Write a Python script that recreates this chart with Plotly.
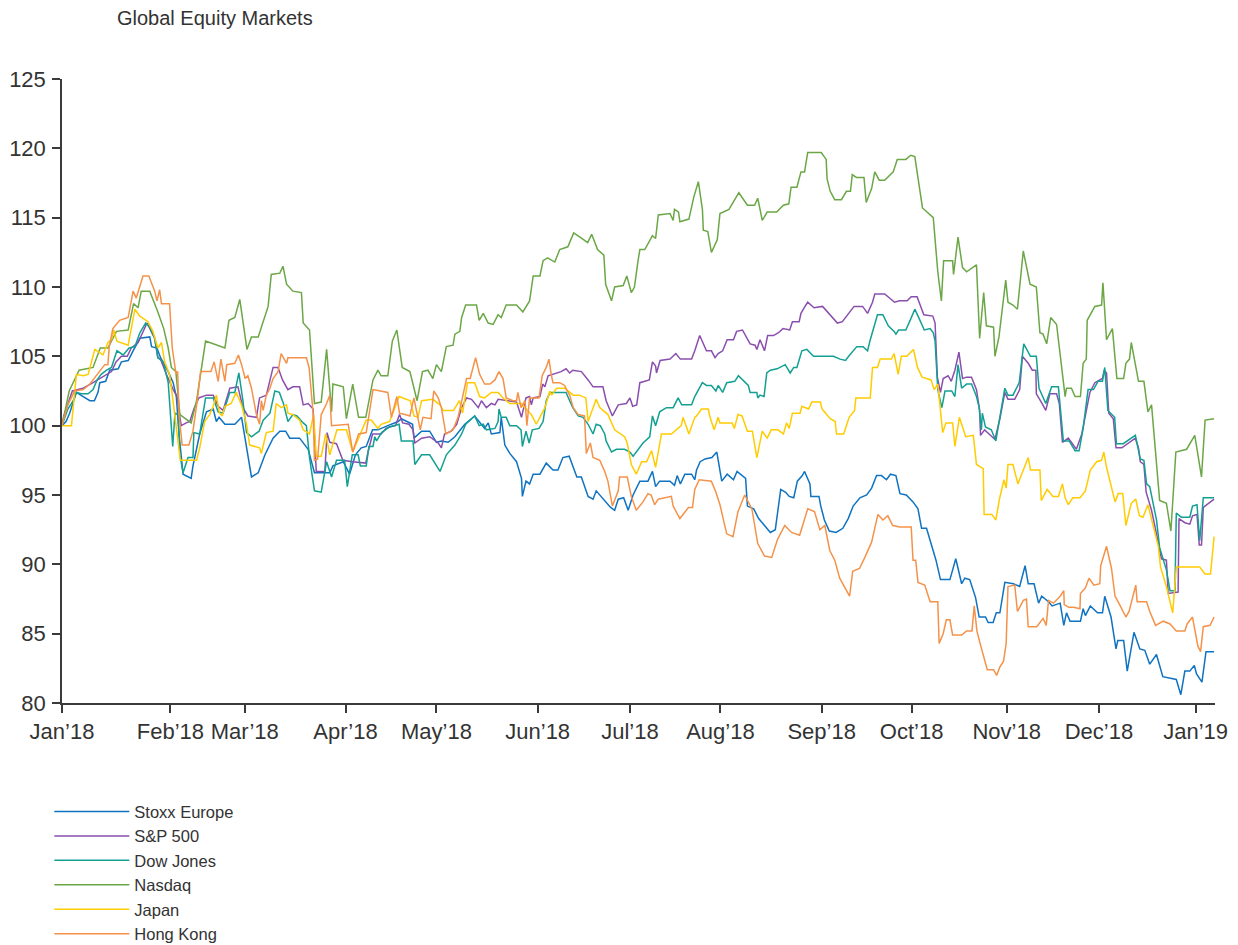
import plotly.graph_objects as go

# x = trading-day index (0 = 1 Jan 2018)
month_ticks = [0, 24.1, 40.6, 63.0, 83.2, 105.7, 126.2, 146.3, 168.8, 188.8, 209.9, 230.4, 251.9]
month_labels = ["Jan\u201918", "Feb\u201918", "Mar\u201918", "Apr\u201918", "May\u201918", "Jun\u201918",
                "Jul\u201918", "Aug\u201918", "Sep\u201918", "Oct\u201918", "Nov\u201918", "Dec\u201918", "Jan\u201919"]

stoxx = [(0,100.0),(0.9,100.3),(1.7,100.9),(3.2,102.4),(4.7,102.1),(6.2,101.8),(7.2,101.8),(8.0,102.4),(8.4,103.1),(9.7,103.2),(10.6,104.0),(12.5,104.1),(13.2,104.6),(14.7,104.7),(15.8,105.4),(17.3,106.3),(19.5,106.4),(19.9,105.7),(21.1,105.6),(21.9,104.9),(23.6,103.9),(24.7,103.1),(25.4,102.1),(26.0,99.4),(26.9,96.5),(28.7,96.2),(29.1,97.1),(30.6,99.4),(32.1,101.0),(33.6,101.2),(34.3,100.3),(34.9,100.6),(36.2,100.1),(38.4,100.1),(39.9,100.6),(41.1,98.4),(42.1,96.3),(43.6,96.6),(45.1,97.9),(46.9,99.1),(48.4,99.6),(49.7,99.6),(50.6,99.1),(52.8,99.1),(54.7,98.3),(56.1,96.6),(57.6,96.6),(59.5,96.6),(60.2,97.1),(62.5,97.4),(63.9,96.5),(65.2,97.9),(66.5,98.4),(67.6,98.5),(69.0,99.7),(70.2,99.7),(72.4,100.0),(74.7,100.3),(75.4,100.5),(76.5,100.3),(77.9,100.1),(78.2,99.1),(79.9,99.6),(81.7,99.6),(83.2,98.8),(84.3,98.9),(85.8,98.8),(87.3,99.2),(89.5,100.1),(91.7,100.7),(92.7,100.3),(93.9,99.8),(94.7,100.2),(95.4,99.4),(97.3,99.5),(97.6,100.6),(98.4,98.6),(99.5,98.0),(101.0,97.4),(102.1,96.2),(102.3,94.9),(103.1,96.0),(103.9,95.8),(104.7,96.5),(106.2,96.5),(107.6,97.3),(109.1,96.8),(110.2,96.8),(111.3,97.7),(112.7,97.8),(114.4,96.3),(115.4,96.3),(116.9,94.9),(118.0,94.7),(118.7,95.3),(119.5,95.0),(120.8,94.5),(121.9,94.1),(122.8,93.9),(123.6,94.7),(124.8,94.8),(125.8,93.9),(126.9,95.0),(128.4,96.0),(130.2,96.0),(131.2,96.7),(131.9,95.6),(132.8,96.0),(135.1,96.0),(136.1,95.7),(136.7,96.4),(137.4,95.8),(138.4,96.5),(139.9,96.5),(140.6,96.1),(141.0,96.8),(141.8,97.4),(142.9,97.6),(144.4,97.7),(145.5,98.1),(146.6,96.0),(147.8,96.5),(149.2,96.1),(150.0,96.7),(151.9,96.2),(152.3,94.2),(153.7,94.0),(154.8,93.3),(156.1,92.8),(157.4,92.3),(158.5,92.5),(159.7,95.4),(160.8,95.2),(161.6,94.9),(162.6,94.8),(163.4,96.0),(164.5,96.4),(165.0,96.7),(166.2,95.8),(166.4,94.9),(168.2,94.9),(168.6,94.2),(169.4,93.2),(170.5,92.4),(172.0,92.3),(173.5,92.6),(174.7,93.3),(175.8,94.2),(177.3,94.8),(178.8,95.0),(179.9,95.5),(181.0,96.4),(182.1,96.4),(183.2,96.1),(184.1,96.5),(185.3,96.4),(186.2,95.1),(187.6,95.0),(189.1,94.5),(190.2,94.0),(191.0,92.6),(192.1,92.6),(193.2,91.4),(194.2,90.3),(195.2,88.9),(197.3,88.9),(198.6,90.4),(199.9,88.6),(200.6,89.0),(201.7,88.9),(203.0,87.6),(203.8,86.2),(205.2,86.2),(205.8,85.8),(206.9,85.8),(207.6,86.5),(208.4,86.5),(209.5,88.7),(211.4,88.6),(212.8,88.4),(214.0,89.9),(214.7,88.6),(216.0,88.6),(217.0,87.2),(217.7,87.7),(219.2,87.3),(220.0,87.0),(221.1,87.1),(221.8,87.2),(222.6,85.6),(223.2,86.5),(224.0,85.9),(226.3,85.9),(226.9,86.8),(227.4,86.3),(228.5,87.0),(230.1,86.5),(231.2,86.5),(231.7,87.7),(233.1,86.2),(234.2,83.9),(234.6,84.5),(235.9,84.5),(236.7,82.3),(238.2,85.1),(239.5,83.9),(240.6,83.8),(241.7,82.8),(243.2,83.5),(244.6,81.9),(246.5,81.8),(247.6,81.7),(248.6,80.6),(249.5,82.3),(250.6,82.3),(251.6,82.7),(252.1,82.1),(253.3,81.5),(254.2,83.7),(256.0,83.7)]

sp500 = [(0,100.0),(0.4,100.7),(2.3,102.5),(4.7,102.7),(6.9,103.1),(9.5,103.6),(11.0,103.9),(12.0,104.6),(13.2,105.0),(14.5,105.0),(15.4,105.6),(16.9,106.0),(18.2,106.9),(18.9,107.4),(20.6,106.3),(21.3,104.9),(21.9,104.8),(23.2,103.7),(24.7,102.6),(25.6,102.1),(26.0,101.0),(26.5,100.0),(27.6,100.2),(28.4,100.3),(29.3,101.2),(30.4,102.0),(32.1,102.2),(33.6,102.2),(34.7,101.4),(35.8,101.1),(37.3,102.7),(39.1,102.8),(40.2,101.3),(41.3,100.7),(43.2,100.6),(43.9,102.0),(45.4,102.2),(46.9,104.2),(48.0,104.2),(49.0,103.3),(50.2,102.6),(51.3,102.8),(52.8,102.8),(53.6,101.5),(54.7,101.6),(55.8,101.2),(56.5,96.7),(58.4,96.7),(58.9,99.5),(59.5,98.8),(61.0,98.7),(62.4,97.5),(64.6,97.4),(67.5,97.3),(68.0,98.1),(69.0,99.4),(70.9,99.4),(72.0,99.8),(72.8,99.9),(74.1,100.0),(75.0,100.8),(75.7,100.2),(77.1,100.1),(78.0,99.7),(78.4,98.75),(79.9,99.1),(81.7,99.2),(83.6,98.75),(84.3,98.4),(85.0,99.4),(86.5,99.6),(87.7,100.1),(88.8,101.3),(89.9,102.0),(91.0,101.9),(92.5,101.3),(93.2,101.8),(94.3,101.3),(95.4,101.6),(96.2,101.5),(96.9,101.9),(99.1,101.8),(101.0,101.7),(102.1,100.6),(103.1,102.0),(103.9,102.1),(104.3,101.5),(104.7,102.0),(106.2,102.1),(106.8,103.0),(107.3,102.8),(108.0,103.6),(109.1,103.7),(110.9,103.9),(112.0,104.1),(112.8,103.8),(113.5,104.0),(115.4,103.9),(116.9,103.3),(118.0,102.8),(120.2,102.8),(120.9,101.8),(122.3,100.7),(123.6,101.5),(125.4,101.6),(126.2,102.0),(126.8,101.4),(127.7,101.5),(128.4,103.1),(130.5,103.3),(131.2,104.6),(131.9,104.3),(132.1,103.8),(132.9,104.7),(135.1,104.8),(136.4,105.2),(137.4,104.8),(139.9,104.8),(140.6,105.4),(141.7,106.5),(143.2,105.4),(144.3,105.4),(145.1,104.9),(145.8,105.2),(146.8,105.4),(147.8,106.2),(149.2,106.2),(149.9,106.8),(151.2,106.9),(152.9,105.9),(154.0,105.8),(154.4,105.5),(155.1,106.2),(156.1,105.4),(156.8,106.5),(158.1,106.5),(159.2,106.7),(160.2,107.0),(161.7,106.9),(162.3,107.5),(163.8,107.5),(164.2,108.1),(164.9,108.5),(165.7,108.9),(167.1,108.5),(169.0,108.6),(172.3,107.4),(173.4,107.5),(176.0,108.6),(177.9,108.6),(179.0,108.1),(180.1,108.9),(180.6,109.5),(182.8,109.5),(185.0,108.9),(186.1,109.0),(187.8,109.0),(188.7,109.3),(190.0,109.3),(190.8,108.6),(191.5,108.0),(193.5,107.9),(194.0,107.4),(194.5,103.5),(195.2,102.4),(195.8,103.4),(196.9,103.6),(197.6,103.2),(198.4,104.0),(199.3,105.3),(200.1,103.4),(201.0,103.5),(202.1,103.5),(203.2,102.6),(203.9,101.1),(204.1,99.3),(205.0,99.7),(206.0,99.4),(207.3,99.0),(208.4,100.5),(209.5,102.4),(210.2,101.9),(211.7,101.9),(212.8,102.6),(213.4,105.0),(214.7,104.5),(215.6,104.0),(216.4,104.0),(216.5,102.3),(217.6,101.7),(218.6,101.1),(219.5,102.3),(221.0,102.3),(221.6,101.6),(222.3,98.8),(223.6,99.1),(224.3,98.8),(225.4,98.3),(226.6,99.4),(227.7,101.3),(228.4,102.4),(229.5,103.1),(231.2,103.4),(231.6,104.0),(232.1,103.8),(232.6,100.9),(233.6,100.5),(234.2,98.4),(235.5,98.4),(238.5,99.1),(239.2,98.4),(239.6,97.4),(240.4,97.2),(240.9,95.2),(242.1,93.9),(243.2,92.2),(244.3,90.4),(245.4,90.3),(245.8,87.9),(248.0,88.0),(248.2,93.3),(249.5,93.0),(250.6,92.9),(251.2,93.5),(252.2,93.6),(252.7,91.4),(253.2,91.4),(253.6,94.1),(256.0,94.7)]

dow = [(0,100.0),(1.3,101.2),(2.5,101.8),(3.2,102.4),(4.3,102.3),(5.8,102.3),(6.9,102.6),(7.8,103.3),(8.7,103.7),(9.9,104.0),(11.0,104.2),(12.2,105.4),(13.6,105.1),(14.9,105.6),(16.2,105.7),(17.3,106.7),(18.6,107.4),(19.5,107.1),(20.6,106.3),(21.3,104.9),(22.5,104.6),(23.6,103.1),(24.6,98.5),(25.1,100.9),(25.8,100.8),(26.2,97.9),(26.9,96.6),(28.0,97.7),(29.1,97.7),(29.3,99.5),(30.6,99.4),(31.9,102.0),(33.6,102.0),(34.7,101.0),(35.8,100.9),(37.3,102.4),(38.4,102.4),(39.3,103.8),(40.2,101.8),(41.0,99.5),(42.1,99.2),(43.8,99.6),(44.7,100.4),(46.2,100.9),(47.3,102.5),(48.3,102.4),(49.2,101.6),(50.2,100.3),(51.3,100.8),(52.2,100.7),(53.6,100.2),(54.3,100.0),(55.0,97.7),(56.1,95.3),(57.6,95.2),(58.8,97.4),(59.9,96.3),(61.0,97.5),(62.8,97.5),(63.4,95.6),(64.5,97.9),(65.8,97.9),(66.3,97.1),(67.6,97.1),(68.2,98.5),(69.1,98.5),(69.5,99.2),(69.9,98.9),(71.0,99.5),(72.7,99.9),(74.9,100.1),(75.4,98.9),(78.0,98.9),(78.4,97.2),(79.9,97.9),(81.7,97.9),(84.0,96.7),(85.4,97.9),(87.3,98.6),(88.8,99.4),(89.7,100.1),(91.7,100.7),(92.7,100.0),(93.6,100.1),(94.3,99.7),(96.2,99.8),(96.9,100.3),(97.1,101.2),(97.6,100.6),(98.7,100.6),(99.5,100.0),(101.0,100.0),(102.0,99.7),(102.3,98.5),(103.1,99.6),(103.8,98.75),(104.5,99.7),(106.0,99.8),(106.9,100.3),(107.6,101.8),(108.4,102.4),(112.0,102.4),(112.8,101.8),(113.5,101.3),(114.7,100.7),(115.8,100.6),(116.9,100.1),(118.0,99.4),(118.7,100.1),(119.6,100.0),(120.6,99.4),(120.9,98.9),(122.1,98.1),(123.2,98.3),(125.0,98.3),(126.2,98.1),(126.9,97.8),(128.0,98.3),(129.1,98.75),(130.6,99.2),(131.2,100.7),(131.9,100.0),(132.8,101.0),(134.3,101.3),(135.8,101.3),(136.9,102.0),(137.7,101.5),(139.9,101.5),(140.6,102.1),(142.3,103.1),(143.2,102.9),(144.3,102.9),(145.3,102.5),(145.8,102.9),(146.8,102.4),(147.7,103.1),(149.5,103.2),(150.3,103.6),(151.3,103.3),(152.5,102.9),(152.9,102.4),(154.4,102.4),(154.6,102.0),(155.1,102.2),(156.0,102.1),(156.6,103.8),(157.4,104.0),(158.9,104.1),(160.7,104.4),(161.8,103.8),(162.6,104.2),(163.3,104.2),(164.4,105.4),(165.5,105.5),(167.0,105.0),(171.4,105.0),(172.9,104.8),(174.1,104.7),(174.8,105.0),(176.6,105.7),(178.0,105.7),(179.0,105.4),(179.6,106.2),(180.7,107.4),(181.2,108.0),(182.4,108.0),(183.6,107.2),(184.9,106.8),(185.3,106.6),(185.9,106.9),(187.5,106.9),(188.6,107.7),(189.5,108.4),(190.5,107.7),(191.6,106.9),(192.9,107.0),(193.6,106.7),(194.0,106.1),(194.4,103.5),(194.6,102.6),(195.5,101.3),(196.2,102.5),(197.7,102.5),(198.4,102.1),(199.1,104.4),(199.9,102.7),(201.0,103.0),(202.1,103.0),(203.2,102.1),(203.8,101.3),(204.3,99.7),(204.5,100.9),(205.2,99.9),(206.5,99.7),(207.5,98.9),(208.5,100.7),(209.5,102.7),(210.2,102.2),(211.3,102.2),(212.7,103.1),(213.7,105.9),(215.2,105.0),(216.5,105.0),(217.1,102.7),(218.6,101.6),(219.9,102.8),(221.4,102.8),(222.5,98.9),(223.8,98.9),(225.1,98.2),(226.0,98.2),(226.9,99.8),(228.0,102.6),(229.2,102.6),(230.2,103.2),(231.2,103.2),(231.7,104.2),(232.4,101.1),(233.9,100.6),(234.3,98.7),(235.8,98.7),(238.5,99.3),(239.6,97.6),(240.4,97.5),(241.0,95.8),(241.7,95.6),(243.2,93.2),(243.9,91.2),(245.4,89.6),(246.2,88.1),(247.3,88.1),(247.6,93.7),(248.7,93.4),(250.6,93.4),(251.2,94.2),(252.2,94.3),(252.8,91.7),(253.6,94.8),(256.0,94.8)]

nasdaq = [(0,100.0),(1.6,102.5),(3.8,104.0),(6.9,104.2),(8.5,105.6),(10.2,105.6),(12.1,106.8),(14.7,106.9),(15.9,108.8),(16.9,108.5),(17.6,109.7),(19.5,109.7),(21.3,108.2),(22.6,107.0),(23.6,105.6),(24.3,104.2),(25.3,103.9),(26.2,100.8),(28.7,100.2),(29.9,101.8),(31.9,106.1),(34.3,105.8),(36.2,105.6),(37.1,107.6),(38.4,107.8),(39.5,109.1),(41.1,105.5),(42.1,106.4),(43.6,106.4),(45.8,108.6),(46.5,110.9),(48.4,111.0),(49.1,111.5),(49.9,110.2),(51.3,109.7),(53.2,109.6),(53.6,107.4),(55.0,106.9),(56.1,101.6),(57.6,101.7),(58.8,105.5),(59.9,101.0),(60.2,103.0),(62.5,102.8),(63.2,100.5),(64.6,103.0),(65.9,100.6),(67.5,100.6),(69.1,103.3),(70.2,104.0),(70.9,103.6),(72.4,103.6),(73.4,106.1),(74.4,106.9),(75.6,104.2),(77.3,103.9),(78.9,101.8),(80.1,103.9),(81.3,104.0),(82.4,103.4),(83.2,104.4),(84.3,103.9),(85.4,105.7),(86.9,105.8),(87.3,106.6),(88.4,106.8),(88.8,107.8),(89.7,108.7),(92.1,108.7),(92.7,107.6),(93.6,108.1),(94.7,107.4),(95.8,107.3),(96.9,108.0),(97.6,107.8),(98.7,108.7),(101.0,108.7),(102.4,108.2),(103.9,109.0),(104.7,110.8),(106.2,110.8),(106.9,111.9),(107.9,112.1),(109.5,111.8),(110.6,112.7),(112.4,112.9),(113.7,113.9),(115.5,113.5),(116.8,113.2),(117.7,113.8),(119.0,112.7),(120.4,112.3),(120.8,110.2),(122.1,109.0),(122.8,110.0),(124.7,110.1),(125.5,110.8),(126.5,109.6),(127.2,110.0),(128.0,111.9),(128.4,112.7),(129.5,112.7),(131.2,113.7),(131.9,113.5),(132.5,115.2),(135.1,115.3),(135.8,114.8),(136.1,115.6),(137.0,115.4),(137.3,114.7),(139.3,114.9),(140.4,116.5),(141.4,117.6),(142.3,115.6),(142.5,114.1),(143.5,114.0),(144.3,112.5),(145.6,113.4),(146.2,115.3),(148.2,115.6),(150.4,116.8),(152.3,115.9),(153.9,115.9),(154.6,116.4),(155.6,114.8),(156.7,115.4),(158.8,115.4),(160.3,115.9),(161.5,116.0),(162.0,117.2),(163.3,117.2),(164.2,118.3),(165.0,118.3),(165.7,119.7),(168.7,119.7),(169.8,119.2),(170.0,117.8),(170.7,116.9),(171.7,116.3),(173.2,116.3),(174.3,116.9),(175.2,116.9),(175.6,118.1),(176.5,117.9),(178.2,117.9),(178.7,116.1),(179.9,117.1),(180.6,118.3),(181.6,117.7),(182.8,117.7),(184.7,118.3),(185.6,119.2),(187.5,119.2),(188.6,119.5),(189.5,119.4),(191.2,115.7),(193.6,115.0),(194.6,111.1),(195.4,109.0),(195.9,111.9),(197.9,111.9),(198.1,110.9),(199.1,113.6),(200.1,111.4),(201.0,111.1),(203.2,111.6),(203.9,106.3),(204.8,109.6),(205.4,107.2),(207.0,107.1),(207.3,105.0),(208.2,106.4),(209.7,110.5),(210.2,108.9),(211.3,108.7),(212.3,108.4),(213.6,112.6),(215.1,110.2),(216.5,110.0),(217.3,106.7),(218.0,106.6),(218.8,105.9),(219.7,107.8),(221.0,107.3),(222.9,102.1),(223.2,102.7),(224.3,102.7),(225.1,102.1),(226.3,102.1),(226.9,104.5),(227.6,104.8),(227.8,107.6),(229.5,108.6),(231.0,108.7),(231.3,110.3),(232.1,106.2),(233.4,107.0),(234.4,103.4),(235.9,103.4),(236.4,104.5),(237.2,104.8),(237.6,106.0),(239.2,103.2),(240.4,103.2),(241.3,101.0),(242.1,101.5),(243.9,94.6),(245.4,94.4),(246.4,92.4),(247.5,98.1),(249.9,98.3),(251.7,99.3),(253.2,96.3),(254.0,100.4),(256.0,100.5)]

japan = [(0,100.0),(2.1,100.0),(3.2,103.7),(4.7,103.6),(5.8,103.7),(7.3,105.5),(9.1,105.1),(10.2,106.0),(11.0,106.2),(11.5,106.9),(12.2,106.1),(14.7,105.8),(16.2,108.4),(17.3,107.9),(19.1,107.5),(20.2,106.8),(21.3,105.6),(22.1,106.0),(22.8,104.6),(23.9,103.7),(24.5,102.2),(25.4,100.0),(26.3,97.5),(29.9,97.5),(30.6,98.4),(31.7,100.3),(32.8,100.8),(33.6,101.4),(34.3,102.2),(35.0,100.9),(35.6,100.7),(36.2,101.4),(37.6,101.6),(38.7,102.4),(39.9,101.5),(41.0,100.1),(41.7,98.6),(43.9,98.4),(44.3,98.0),(45.4,99.5),(46.9,99.6),(47.6,101.6),(48.7,101.3),(49.9,101.5),(50.2,100.9),(51.3,100.8),(52.8,100.4),(53.6,99.7),(55.0,99.4),(55.9,100.8),(56.5,97.8),(57.6,97.8),(58.6,99.4),(59.5,97.9),(61.1,99.7),(63.2,99.7),(64.6,98.1),(67.6,100.4),(68.7,100.4),(70.2,99.8),(70.9,100.1),(72.8,100.3),(73.9,101.3),(74.9,102.1),(76.5,101.9),(77.4,101.8),(78.2,100.7),(79.1,100.6),(79.9,101.8),(82.4,101.9),(84.0,101.5),(84.7,101.1),(87.0,101.1),(88.3,101.8),(89.0,100.9),(89.5,102.0),(90.1,103.1),(91.7,103.1),(92.8,102.1),(93.9,102.0),(95.4,102.4),(96.9,102.4),(98.0,102.0),(99.5,101.6),(102.1,101.6),(102.8,101.3),(104.3,100.8),(105.4,100.1),(106.2,100.6),(107.3,101.3),(108.4,102.5),(108.8,102.2),(109.9,102.7),(111.7,102.7),(112.1,102.6),(113.6,102.2),(115.0,102.2),(116.4,102.0),(116.9,100.3),(118.7,101.9),(119.5,101.3),(121.3,100.8),(122.8,99.7),(125.0,99.2),(125.6,98.75),(126.5,97.2),(127.6,96.5),(128.8,97.4),(129.9,97.4),(131.0,98.2),(131.9,97.0),(133.2,99.4),(135.4,99.4),(137.6,100.0),(138.0,100.6),(139.3,99.4),(140.6,100.6),(141.0,100.7),(142.1,101.2),(143.6,101.2),(144.0,100.6),(144.9,99.7),(145.8,100.6),(146.2,100.2),(148.9,100.2),(149.4,99.8),(150.2,100.8),(151.1,100.7),(152.3,99.6),(153.4,99.6),(154.4,97.7),(155.6,99.6),(156.7,99.1),(157.6,99.7),(159.1,99.7),(160.3,99.4),(161.0,100.2),(161.6,99.8),(162.3,100.9),(164.0,100.9),(164.4,101.4),(165.9,101.2),(166.6,101.7),(168.5,101.7),(168.9,101.2),(170.0,100.8),(170.7,100.5),(171.8,100.3),(172.1,99.4),(173.7,99.4),(174.9,100.6),(176.1,101.1),(176.4,102.0),(179.6,102.0),(180.1,104.2),(181.2,104.2),(181.8,104.8),(184.3,104.8),(184.9,105.2),(185.8,103.7),(186.5,105.0),(187.7,105.0),(189.2,105.5),(190.1,104.2),(191.1,103.5),(193.1,103.3),(193.8,102.6),(194.6,103.0),(195.2,100.8),(195.7,99.5),(196.4,100.2),(197.9,100.2),(198.4,98.5),(199.4,100.6),(200.8,99.2),(202.5,99.3),(203.2,97.2),(204.7,96.9),(204.9,93.6),(206.6,93.6),(207.5,93.2),(208.3,94.7),(209.3,96.1),(209.8,95.5),(210.2,97.2),(211.3,97.2),(212.4,95.8),(213.7,96.9),(214.7,97.7),(215.2,96.8),(217.3,96.8),(217.6,94.6),(218.9,95.4),(220.2,94.9),(221.4,94.9),(222.3,95.8),(222.9,94.8),(223.6,94.3),(224.6,94.8),(226.2,94.8),(227.4,95.3),(228.5,96.8),(229.9,97.4),(231.0,97.5),(231.5,98.1),(232.1,97.0),(234.0,94.5),(234.7,95.1),(235.7,95.1),(236.4,92.8),(237.6,94.4),(238.6,94.7),(239.4,93.5),(240.2,93.4),(241.3,94.3),(243.6,91.3),(244.1,89.8),(245.4,88.4),(246.8,86.5),(247.6,89.8),(252.8,89.8),(254.0,89.3),(255.2,89.3),(256.0,92.0)]

hongkong = [(0,100.0),(1.3,101.5),(2.8,102.5),(4.7,102.6),(6.2,103.0),(7.6,103.6),(9.5,104.4),(10.2,104.4),(10.5,105.7),(11.3,107.0),(12.8,107.6),(14.7,107.8),(15.8,109.7),(16.5,109.2),(17.1,109.9),(18.0,110.8),(19.3,110.8),(20.6,109.7),(21.1,109.0),(21.7,109.8),(22.1,108.8),(23.9,108.8),(24.5,105.6),(25.3,103.8),(25.7,103.9),(26.0,100.8),(26.7,98.6),(28.2,98.6),(29.1,99.6),(30.1,101.9),(30.8,103.9),(33.1,103.9),(33.8,104.6),(34.7,103.2),(35.3,104.8),(36.2,103.2),(36.6,104.4),(38.4,104.5),(39.2,105.1),(39.9,104.4),(40.7,103.4),(41.3,103.6),(42.1,102.7),(43.2,100.8),(43.9,100.1),(44.3,101.8),(44.7,101.1),(45.4,102.2),(46.2,102.7),(46.9,103.4),(48.0,103.9),(48.7,105.2),(49.9,104.5),(50.2,104.9),(54.3,104.9),(54.9,104.2),(55.8,100.9),(56.1,97.5),(56.8,97.6),(57.6,100.8),(58.8,101.6),(59.5,102.2),(59.9,100.0),(63.6,100.1),(64.6,98.1),(65.9,99.4),(67.6,99.5),(68.3,101.0),(69.1,102.6),(72.4,102.4),(73.2,100.6),(74.4,102.1),(75.0,100.9),(76.2,100.8),(77.3,100.7),(78.2,102.0),(79.6,99.7),(80.2,100.6),(82.0,100.5),(82.6,102.5),(83.6,102.0),(84.3,101.3),(85.3,99.4),(86.9,99.7),(88.0,100.6),(89.1,102.2),(89.9,103.4),(90.7,103.4),(91.9,104.9),(92.8,103.7),(93.9,103.0),(95.1,103.0),(96.2,103.3),(97.1,103.9),(98.0,103.4),(98.7,102.0),(100.2,101.8),(101.0,101.8),(101.3,102.4),(102.0,101.3),(102.9,101.8),(103.3,100.0),(103.9,102.0),(106.0,102.0),(106.7,103.6),(107.6,104.2),(108.2,104.8),(108.7,103.7),(109.1,103.1),(110.6,103.1),(111.7,102.9),(112.1,102.6),(112.8,102.2),(113.6,101.3),(114.7,100.8),(116.1,100.7),(116.5,98.0),(117.4,98.75),(118.0,97.7),(119.5,97.5),(120.6,96.7),(121.3,96.0),(122.3,94.2),(123.6,95.3),(123.9,96.3),(125.6,96.3),(126.5,94.9),(127.6,93.9),(129.1,94.5),(130.2,95.1),(130.9,95.0),(131.7,94.3),(132.5,94.7),(135.4,94.9),(135.8,94.2),(137.3,93.3),(139.2,94.1),(140.1,94.1),(140.6,95.4),(141.6,96.1),(144.3,96.0),(145.3,95.2),(146.2,94.3),(147.7,92.2),(149.1,92.0),(150.2,93.8),(151.7,95.0),(153.3,94.0),(154.6,91.5),(156.1,90.6),(157.7,90.5),(159.0,91.8),(160.6,92.8),(162.1,92.3),(163.9,92.1),(165.7,94.0),(167.2,93.8),(168.4,92.5),(169.5,92.8),(170.6,91.0),(171.7,90.3),(172.8,89.0),(173.9,88.3),(175.0,87.7),(175.7,89.5),(177.2,89.7),(178.4,90.5),(179.9,91.6),(181.3,93.6),(182.4,93.2),(183.5,93.5),(184.6,92.8),(186.2,92.7),(188.7,92.7),(189.1,90.3),(189.7,90.3),(190.2,88.7),(191.7,88.5),(192.9,87.3),(194.6,87.3),(194.9,84.3),(195.8,85.0),(196.5,86.0),(197.3,86.0),(197.9,84.9),(199.9,84.9),(201.0,85.2),(202.2,85.2),(202.7,87.0),(203.3,85.2),(204.0,84.3),(204.8,83.3),(205.6,82.4),(207.0,82.4),(207.7,82.0),(208.4,82.6),(209.2,83.0),(209.8,84.3),(210.2,88.4),(211.7,88.5),(212.3,86.6),(212.8,86.9),(213.6,87.4),(214.3,87.5),(214.7,85.5),(216.6,85.5),(218.0,86.1),(218.7,85.6),(219.2,87.4),(220.3,87.2),(221.8,87.7),(222.6,88.1),(222.7,87.1),(223.7,86.9),(224.8,86.9),(226.2,86.8),(226.3,87.9),(227.4,88.3),(228.2,89.0),(229.3,88.5),(230.6,88.6),(230.8,89.9),(232.1,91.3),(233.2,89.7),(234.0,87.7),(235.0,87.1),(236.4,86.2),(237.1,86.6),(238.6,88.5),(238.9,87.3),(241.0,87.3),(241.7,86.6),(243.0,85.6),(244.7,85.9),(246.2,85.7),(247.6,85.2),(249.5,85.2),(250.0,85.7),(251.2,86.2),(252.4,84.1),(253.0,83.7),(253.6,85.5),(255.1,85.6),(256.0,86.2)]

series_names = ["Stoxx Europe", "S&P 500", "Dow Jones", "Nasdaq", "Japan", "Hong Kong"]
series_data = [stoxx, sp500, dow, nasdaq, japan, hongkong]
series_colors = ["#0F73C1", "#8A4FAE", "#13A093", "#6BA746", "#FFCC00", "#F5924A"]

fig = go.Figure()
for name, data, color in zip(series_names, series_data, series_colors):
    fig.add_trace(go.Scatter(
        x=[p[0] for p in data], y=[p[1] for p in data], name=name, mode="lines",
        line=dict(color=color, width=1.5), hoverinfo="x+y+name"))

axis_color = "#3a3a3a"
font_family = "Liberation Sans, Arial, sans-serif"
fig.update_layout(
    width=1238, height=945,
    margin=dict(l=54, r=31, t=71, b=250, autoexpand=False),
    paper_bgcolor="white", plot_bgcolor="white",
    font=dict(family=font_family, color="#333333", size=22),
    title=dict(text="Global Equity Markets", x=109/1238, xref="container", xanchor="left",
               y=1-10/945, yref="container", yanchor="middle",
               font=dict(size=20, color="#333333", family=font_family)),
    showlegend=True,
    legend=dict(x=-0.011, y=0.168, xref="paper", yref="container",
                xanchor="left", yanchor="top", orientation="v",
                font=dict(size=16.5, color="#333333"), itemwidth=75, tracegroupgap=0,
                bgcolor="rgba(0,0,0,0)"),
)
fig.update_xaxes(range=[0, 256.2], tickmode="array", tickvals=month_ticks, ticktext=month_labels,
                 showgrid=False, zeroline=False, showline=True, linecolor=axis_color, linewidth=1.5,
                 ticks="outside", ticklen=8, tickwidth=1.5, tickcolor=axis_color, tickangle=0,
                 automargin=False, tickfont=dict(size=22, color="#333333"))
fig.update_yaxes(range=[80, 125], tickmode="linear", tick0=80, dtick=5,
                 showgrid=False, zeroline=False, showline=True, linecolor=axis_color, linewidth=1.5,
                 ticks="outside", ticklen=8, tickwidth=1.5, tickcolor=axis_color,
                 ticklabelstandoff=2, automargin=False,
                 tickfont=dict(size=22, color="#333333"))

fig.write_html("out.html")
